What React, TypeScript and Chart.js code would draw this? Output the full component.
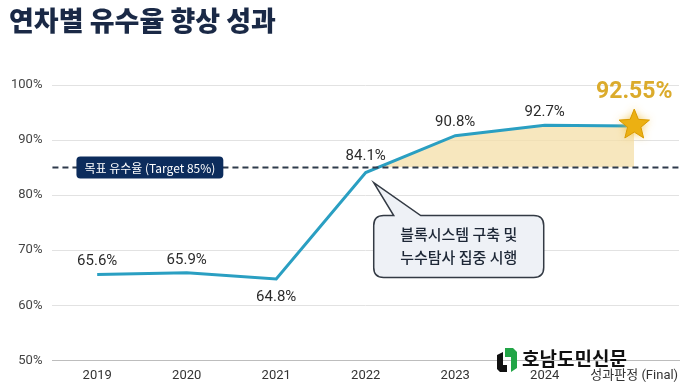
import React, { useEffect, useRef } from "react";
import { Chart, registerables } from "chart.js";

Chart.register(...registerables);

const categories = ["2019", "2020", "2021", "2022", "2023", "2024", "성과판정 (Final)"];
const rates = [65.6, 65.9, 64.8, 84.1, 90.8, 92.7, 92.55];
const valueLabels = ["65.6%", "65.9%", "64.8%", "84.1%", "90.8%", "92.7%", "92.55%"];
const labelPlacement = ["above", "above", "below", "aboveHigh", "above", "above", "final"];
const targetRate = 85;
const yMin = 50;
const yMax = 100;
const yStep = 10;
const titleText = "연차별 유수율 향상 성과";
const targetLabel = "목표 유수율 (Target 85%)";
const calloutLines = ["블록시스템 구축 및", "누수탐사 집중 시행"];
const calloutIndex = 3;
const logoText = "호남도민신문";

const FONT = "Roboto, 'Noto Sans CJK KR', sans-serif";
const KFONT = "'Noto Sans CJK KR', Roboto, sans-serif";

function roundRect(ctx: CanvasRenderingContext2D, x: number, y: number, w: number, h: number, r: number) {
  ctx.beginPath();
  ctx.moveTo(x + r, y);
  ctx.lineTo(x + w - r, y);
  ctx.quadraticCurveTo(x + w, y, x + w, y + r);
  ctx.lineTo(x + w, y + h - r);
  ctx.quadraticCurveTo(x + w, y + h, x + w - r, y + h);
  ctx.lineTo(x + r, y + h);
  ctx.quadraticCurveTo(x, y + h, x, y + h - r);
  ctx.lineTo(x, y + r);
  ctx.quadraticCurveTo(x, y, x + r, y);
  ctx.closePath();
}

function starPath(ctx: CanvasRenderingContext2D, cx: number, cy: number, R: number, r: number) {
  ctx.beginPath();
  for (let i = 0; i < 10; i++) {
    const a = -Math.PI / 2 + (i * Math.PI) / 5;
    const rad = i % 2 === 0 ? R : r;
    const x = cx + rad * Math.cos(a);
    const y = cy + rad * Math.sin(a);
    if (i === 0) ctx.moveTo(x, y);
    else ctx.lineTo(x, y);
  }
  ctx.closePath();
}

const overlayPlugin = {
  id: "overlay",
  afterDatasetsDraw(chart: any) {
    const ctx: CanvasRenderingContext2D = chart.ctx;
    const { left, right } = chart.chartArea;
    const y = chart.scales.y;
    const meta = chart.getDatasetMeta(0);
    const ty = y.getPixelForValue(targetRate);

    // target dashed line
    ctx.save();
    ctx.strokeStyle = "#2f3b4c";
    ctx.lineWidth = 2;
    ctx.setLineDash([6, 4]);
    ctx.beginPath();
    ctx.moveTo(left, ty);
    ctx.lineTo(right, ty);
    ctx.stroke();
    ctx.setLineDash([]);

    // target label box
    ctx.font = `12px ${KFONT}`;
    const tw = ctx.measureText(targetLabel).width;
    const bw = tw + 16;
    const bx = left + 24;
    roundRect(ctx, bx, ty - 11, bw, 22, 4);
    ctx.fillStyle = "#0c2c5c";
    ctx.fill();
    ctx.fillStyle = "#ffffff";
    ctx.textAlign = "center";
    ctx.textBaseline = "middle";
    ctx.fillText(targetLabel, bx + bw / 2, ty + 0.5);

    // value labels
    meta.data.forEach((pt: any, i: number) => {
      const p = labelPlacement[i];
      ctx.textAlign = "center";
      ctx.textBaseline = "middle";
      if (p === "final") {
        ctx.font = `bold 23px ${FONT}`;
        ctx.fillStyle = "#dbab2c";
        ctx.fillText(valueLabels[i], pt.x, pt.y - 34);
        return;
      }
      ctx.font = `15px ${FONT}`;
      ctx.fillStyle = "#2b2b2b";
      let dy = -13;
      if (p === "below") dy = 18;
      if (p === "aboveHigh") dy = -16;
      ctx.fillText(valueLabels[i], pt.x, pt.y + dy);
    });

    // callout
    const cp = meta.data[calloutIndex];
    const cx0 = cp.x + 8;
    const cy0 = cp.y + 43;
    const cw = 170;
    const ch = 62;
    const cr = 10;
    const tipX = cp.x + 8;
    const tipY = cp.y + 10;
    ctx.beginPath();
    ctx.moveTo(cx0 + cr, cy0);
    ctx.lineTo(cx0 + 20, cy0);
    ctx.lineTo(tipX, tipY);
    ctx.lineTo(cx0 + 47, cy0);
    ctx.lineTo(cx0 + cw - cr, cy0);
    ctx.quadraticCurveTo(cx0 + cw, cy0, cx0 + cw, cy0 + cr);
    ctx.lineTo(cx0 + cw, cy0 + ch - cr);
    ctx.quadraticCurveTo(cx0 + cw, cy0 + ch, cx0 + cw - cr, cy0 + ch);
    ctx.lineTo(cx0 + cr, cy0 + ch);
    ctx.quadraticCurveTo(cx0, cy0 + ch, cx0, cy0 + ch - cr);
    ctx.lineTo(cx0, cy0 + cr);
    ctx.quadraticCurveTo(cx0, cy0, cx0 + cr, cy0);
    ctx.closePath();
    ctx.fillStyle = "#eef1f6";
    ctx.fill();
    ctx.strokeStyle = "#333a44";
    ctx.lineWidth = 1.5;
    ctx.stroke();
    ctx.fillStyle = "#1d2736";
    ctx.font = `500 15px ${KFONT}`;
    ctx.textAlign = "center";
    ctx.fillText(calloutLines[0], cx0 + cw / 2, cy0 + 19);
    ctx.fillText(calloutLines[1], cx0 + cw / 2, cy0 + 42);

    // star at final point
    const last = meta.data[meta.data.length - 1];
    ctx.shadowColor = "rgba(240, 190, 60, 0.8)";
    ctx.shadowBlur = 8;
    starPath(ctx, last.x, last.y - 1, 16, 7);
    ctx.fillStyle = "#ecb012";
    ctx.fill();
    ctx.shadowBlur = 0;
    ctx.strokeStyle = "#d99a00";
    ctx.lineWidth = 1;
    ctx.stroke();
    ctx.restore();
  },
  afterDraw(chart: any) {
    const ctx: CanvasRenderingContext2D = chart.ctx;
    ctx.save();
    // title
    ctx.font = `900 27px ${KFONT}`;
    ctx.fillStyle = "#1a2946";
    ctx.textAlign = "left";
    ctx.textBaseline = "middle";
    ctx.fillText(titleText, 9, 21);

    // logo
    const lx = 497;
    const ly = 348;
    ctx.fillStyle = "#111111";
    ctx.beginPath();
    ctx.moveTo(lx, ly + 7);
    ctx.lineTo(lx + 6, ly + 4);
    ctx.lineTo(lx + 6, ly + 17);
    ctx.lineTo(lx + 10, ly + 17);
    ctx.lineTo(lx + 10, ly + 24);
    ctx.lineTo(lx + 3, ly + 24);
    ctx.lineTo(lx, ly + 21);
    ctx.closePath();
    ctx.fill();
    ctx.fillStyle = "#22a547";
    ctx.beginPath();
    ctx.moveTo(lx + 8, ly);
    ctx.lineTo(lx + 16, ly);
    ctx.lineTo(lx + 20, ly + 4);
    ctx.lineTo(lx + 20, ly + 20);
    ctx.lineTo(lx + 14, ly + 24);
    ctx.lineTo(lx + 14, ly + 9);
    ctx.lineTo(lx + 8, ly + 9);
    ctx.closePath();
    ctx.fill();
    ctx.fillStyle = "#111111";
    ctx.font = `bold 19px ${KFONT}`;
    ctx.textBaseline = "middle";
    ctx.fillText(logoText, lx + 25, ly + 11);
    ctx.restore();
  },
};

export default function App() {
  const canvasRef = useRef<HTMLCanvasElement | null>(null);

  useEffect(() => {
    document.body.style.margin = "0";
    const canvas = canvasRef.current;
    if (!canvas) return;
    const chart = new Chart(canvas, {
      type: "line",
      data: {
        labels: categories,
        datasets: [
          {
            data: rates,
            borderColor: "#2a9fc2",
            borderWidth: 3,
            pointRadius: 0,
            tension: 0,
            fill: {
              value: targetRate,
              above: "rgba(244, 223, 168, 0.75)",
              below: "rgba(0,0,0,0)",
            } as any,
          },
        ],
      },
      options: {
        responsive: false,
        animation: false,
        layout: { padding: { top: 85, left: 1, right: 1, bottom: -5 } },
        plugins: {
          legend: { display: false },
          tooltip: { enabled: false },
          title: { display: false },
        },
        scales: {
          x: {
            offset: true,
            afterFit: (scale: any) => {
              scale.paddingRight = 0;
              scale.paddingLeft = 0;
            },
            grid: { display: false, drawTicks: false },
            border: { display: true, color: "#bdbdbd", width: 1 },
            ticks: {
              color: "#333333",
              font: { family: FONT, size: 13 },
              padding: 8,
              maxRotation: 0,
              autoSkip: false,
            },
          },
          y: {
            min: yMin,
            max: yMax,
            grid: { color: "#e2e2e2", drawTicks: false },
            border: { display: false },
            ticks: {
              stepSize: yStep,
              color: "#444444",
              font: { family: FONT, size: 13 },
              padding: 10,
              callback: (v: any) => `${v}%`,
            },
          },
        },
      },
      plugins: [overlayPlugin],
    });
    return () => chart.destroy();
  }, []);

  return (
    <div style={{ position: "absolute", left: 0, top: 0, width: 680, height: 387, background: "#ffffff" }}>
      <canvas ref={canvasRef} width={680} height={387} />
    </div>
  );
}
